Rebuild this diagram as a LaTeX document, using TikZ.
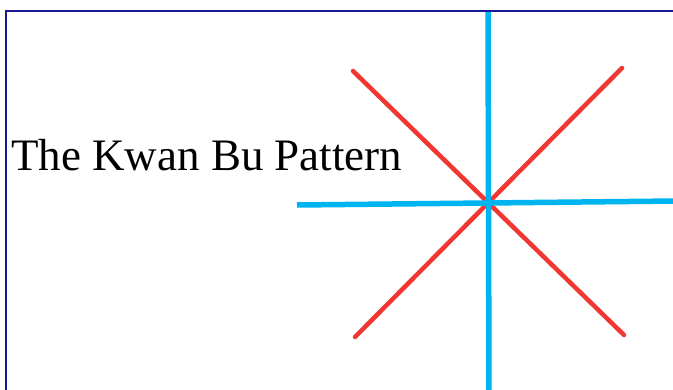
\documentclass[tikz,border=0pt]{standalone}
\usepackage{fontspec}
\setmainfont{Liberation Serif}
\definecolor{frameblue}{RGB}{24,24,150}
\definecolor{skyline}{RGB}{0,180,240}
\definecolor{redline}{RGB}{240,55,50}
\tikzset{
  framestyle/.style={draw=frameblue, line width=2.2pt},
  bluebar/.style={draw=skyline, line width=5.5pt},
  redbar/.style={draw=redline, line width=4.5pt, line cap=round},
  titletext/.style={inner sep=0pt, anchor=base west, font=\fontsize{45}{54}\selectfont, text=black}
}
\begin{document}
\begin{tikzpicture}[x=1pt,y=-1pt]
\useasboundingbox (0,0) rectangle (673,389);
\fill[white] (0,0) rectangle (673,389);
\coordinate (fbl) at (6,390);
\coordinate (ftl) at (6,11);
\coordinate (ftr) at (674,11);
\draw[framestyle] (fbl) -- (ftl) -- (ftr);
\coordinate (vt) at (488,12);
\coordinate (vb) at (489,392);
\coordinate (hl) at (297,205);
\coordinate (hr) at (676,201);
\coordinate (rtl) at (353,71);
\coordinate (rbr) at (624,335);
\coordinate (rtr) at (622,68);
\coordinate (rbl) at (355,337);
\draw[redbar] (rtl) -- (rbr);
\draw[redbar] (rtr) -- (rbl);
\draw[bluebar] (hl) -- (hr);
\draw[bluebar] (vt) -- (vb);
\node[titletext] (title) at (11,170) {The Kwan Bu Pattern};
\end{tikzpicture}
\end{document}
